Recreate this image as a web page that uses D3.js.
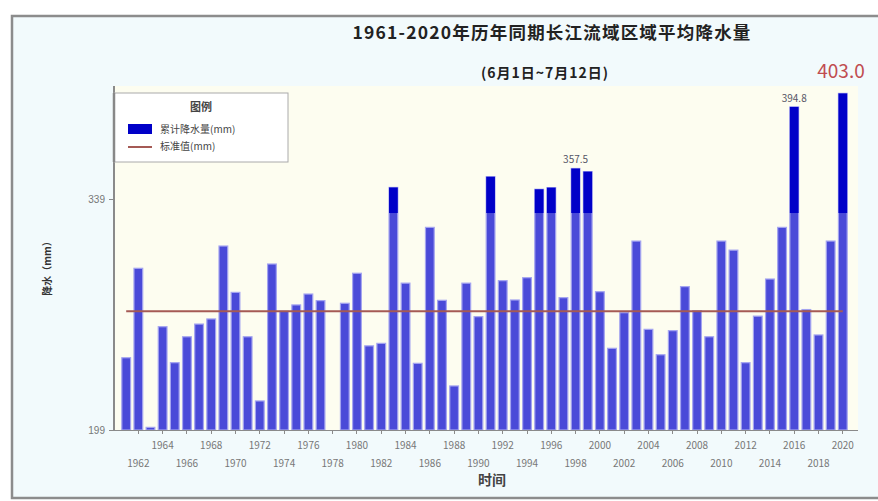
<!doctype html>
<html>
<head>
    <meta charset="utf-8"/>
    <style>
        html, body {
            margin: 0;
            padding: 0;
            background: #ffffff;
        }
        svg {
            display: block;
            font-family: "Noto Sans CJK SC", "DejaVu Sans", sans-serif;
        }
        .axis path, .axis line {
            fill: none;
            stroke: #8a8a8a;
            shape-rendering: crispEdges;
        }
        .axis text {
            font-size: 10px;
            fill: #777;
        }
    </style>
    <script src="https://d3js.org/d3.v7.min.js"></script>
</head>
<body>

<svg width="878" height="501"></svg>

<script>

    // 6月1日~7月12日 长江流域区域平均降水量 (mm), 1961-2020
    var years = d3.range(1961, 2021);
    var rainfall = [
        242.8, 297.0, 200.6, 261.6, 239.8, 255.5, 263.2, 266.3, 310.5, 282.4,
        255.5, 216.6, 299.6, 271.0, 274.8, 281.4, 277.4, 195.0, 275.8, 294.0,
        250.0, 251.5, 346.0, 288.0, 239.4, 321.8, 277.6, 225.7, 288.0, 267.7,
        352.5, 289.5, 277.8, 291.3, 344.9, 345.9, 279.2, 357.5, 355.6, 282.8,
        248.5, 270.1, 313.5, 260.0, 244.6, 259.2, 285.9, 271.3, 255.5, 313.5,
        308.0, 239.8, 268.0, 290.5, 321.8, 394.8, 272.0, 256.6, 313.5, 403.0
    ];
    var normalValue = 271;          // 标准值
    var highlightFrom = 330.5;      // 深色部分起点
    var yTicks = [199, 339];
    var topLabelYears = [1964, 1968, 1972, 1976, 1980, 1984, 1988, 1992, 1996, 2000, 2004, 2008, 2012, 2016, 2020];
    var lowLabelYears = [1962, 1966, 1970, 1974, 1978, 1982, 1986, 1990, 1994, 1998, 2002, 2006, 2010, 2014, 2018];
    var barLabels = [{year: 1998, text: "357.5"}, {year: 2016, text: "394.8"}];
    var legendItems = ["累计降水量(mm)", "标准值(mm)"];

    var svg = d3.select("svg");
    var data = years.map(function(y, i) { return {year: y, value: rainfall[i]}; });

    var plot = {left: 114, right: 858, top: 86, bottom: 430};

    var x = d3.scaleBand().domain(years).range([120, 849]).paddingInner(0.28).paddingOuter(0.15);
    var y = d3.scaleLinear().domain([199, 339]).range([plot.bottom, 199]);

    // outer frame
    svg.append("rect")
        .attr("x", 12).attr("y", 16).attr("width", 880).attr("height", 482)
        .attr("fill", "#f2fafc").attr("stroke", "#8c8c8c").attr("stroke-width", 2.5);

    // plot background
    svg.append("rect")
        .attr("x", plot.left).attr("y", plot.top)
        .attr("width", plot.right - plot.left).attr("height", plot.bottom - plot.top)
        .attr("fill", "#fdfdf0");

    // titles
    svg.append("text")
        .attr("x", 552).attr("y", 39)
        .attr("text-anchor", "middle")
        .attr("font-size", 17.5).attr("font-weight", "bold").attr("fill", "#222")
        .attr("letter-spacing", 1.2)
        .text("1961-2020年历年同期长江流域区域平均降水量");

    svg.append("text")
        .attr("x", 545).attr("y", 78)
        .attr("text-anchor", "middle")
        .attr("font-size", 14).attr("font-weight", "bold").attr("fill", "#222")
        .attr("letter-spacing", 1)
        .text("(6月1日~7月12日)");

    // bars
    var bars = svg.append("g").attr("class", "bars");
    var baseValue = y.domain()[0];

    bars.selectAll("rect.main")
        .data(data)
        .enter().append("rect")
        .attr("class", "main")
        .attr("x", function(d) { return x(d.year); })
        .attr("width", x.bandwidth())
        .attr("y", function(d) { return y(Math.max(d.value, baseValue)); })
        .attr("height", function(d) { return y(baseValue) - y(Math.max(d.value, baseValue)); })
        .attr("fill", "#4a4ad8")
        .attr("stroke", "#a4a4f0")
        .attr("stroke-width", 1.2);

    bars.selectAll("rect.high")
        .data(data.filter(function(d) { return d.value > highlightFrom; }))
        .enter().append("rect")
        .attr("class", "high")
        .attr("x", function(d) { return x(d.year); })
        .attr("width", x.bandwidth())
        .attr("y", function(d) { return y(d.value); })
        .attr("height", function(d) { return y(highlightFrom) - y(d.value); })
        .attr("fill", "#0000c8");

    // normal line
    svg.append("line")
        .attr("x1", x(years[0]) + x.bandwidth() / 2)
        .attr("x2", x(years[years.length - 1]) + x.bandwidth() / 2)
        .attr("y1", y(normalValue)).attr("y2", y(normalValue))
        .attr("stroke", "#a55a55").attr("stroke-width", 2);

    // bar value labels
    svg.selectAll("text.barlabel")
        .data(barLabels)
        .enter().append("text")
        .attr("class", "barlabel")
        .attr("x", function(d) { return x(d.year) + x.bandwidth() / 2; })
        .attr("y", function(d) { return y(rainfall[years.indexOf(d.year)]) - 5; })
        .attr("text-anchor", "middle")
        .attr("font-size", 10).attr("fill", "#556")
        .text(function(d) { return d.text; });

    svg.append("text")
        .attr("x", 841).attr("y", 78)
        .attr("text-anchor", "middle")
        .attr("font-size", 19).attr("fill", "#c04c50")
        .text("403.0");

    // axes
    svg.append("g")
        .attr("class", "axis")
        .attr("transform", "translate(" + plot.left + ",0)")
        .call(d3.axisLeft(y).tickValues(yTicks).tickSize(5).tickPadding(4))
        .call(function(g) { g.select(".domain").attr("d", "M0," + plot.top + "V" + plot.bottom).attr("stroke-width", 1.5); })
        .call(function(g) { g.selectAll(".tick text").attr("font-size", 11); });

    var xAxis = svg.append("g")
        .attr("class", "axis")
        .attr("transform", "translate(0," + plot.bottom + ")");
    xAxis.append("line")
        .attr("x1", plot.left).attr("x2", plot.right)
        .attr("stroke", "#8a8a8a");
    xAxis.selectAll("line.tick")
        .data(years.filter(function(d) { return d % 2 === 0; }))
        .enter().append("line")
        .attr("class", "tick")
        .attr("x1", function(d) { return x(d) + x.bandwidth() / 2; })
        .attr("x2", function(d) { return x(d) + x.bandwidth() / 2; })
        .attr("y1", 0).attr("y2", 4);
    xAxis.selectAll("text.top")
        .data(topLabelYears)
        .enter().append("text")
        .attr("class", "top")
        .attr("x", function(d) { return x(d) + x.bandwidth() / 2; })
        .attr("y", 19)
        .attr("text-anchor", "middle")
        .text(function(d) { return d; });
    xAxis.selectAll("text.low")
        .data(lowLabelYears)
        .enter().append("text")
        .attr("class", "low")
        .attr("x", function(d) { return x(d) + x.bandwidth() / 2; })
        .attr("y", 37)
        .attr("text-anchor", "middle")
        .text(function(d) { return d; });

    // axis titles
    svg.append("text")
        .attr("transform", "translate(51,266) rotate(-90)")
        .attr("text-anchor", "middle")
        .attr("font-size", 10).attr("font-weight", "bold").attr("fill", "#333")
        .text("降水（mm）");

    svg.append("text")
        .attr("x", 492).attr("y", 485)
        .attr("text-anchor", "middle")
        .attr("font-size", 14).attr("font-weight", "bold").attr("fill", "#444")
        .text("时间");

    // legend
    var legend = svg.append("g").attr("transform", "translate(114,93)");
    legend.append("rect")
        .attr("width", 174).attr("height", 69)
        .attr("fill", "#ffffff").attr("stroke", "#aaa").attr("stroke-width", 1);
    legend.append("line")
        .attr("x1", 0).attr("x2", 0).attr("y1", 0).attr("y2", 69)
        .attr("stroke", "#888").attr("stroke-width", 2.5);
    legend.append("text")
        .attr("x", 87).attr("y", 18)
        .attr("text-anchor", "middle")
        .attr("font-size", 11).attr("font-weight", "bold").attr("fill", "#444")
        .text("图例");
    legend.append("rect")
        .attr("x", 14).attr("y", 31).attr("width", 24).attr("height", 10)
        .attr("fill", "#0000c8");
    legend.append("line")
        .attr("x1", 14).attr("x2", 38).attr("y1", 54).attr("y2", 54)
        .attr("stroke", "#a55a55").attr("stroke-width", 2);
    legend.selectAll("text.item")
        .data(legendItems)
        .enter().append("text")
        .attr("class", "item")
        .attr("x", 46)
        .attr("y", function(d, i) { return 40 + i * 17; })
        .attr("font-size", 10).attr("fill", "#444")
        .text(function(d) { return d; });

</script>

</body>
</html>
